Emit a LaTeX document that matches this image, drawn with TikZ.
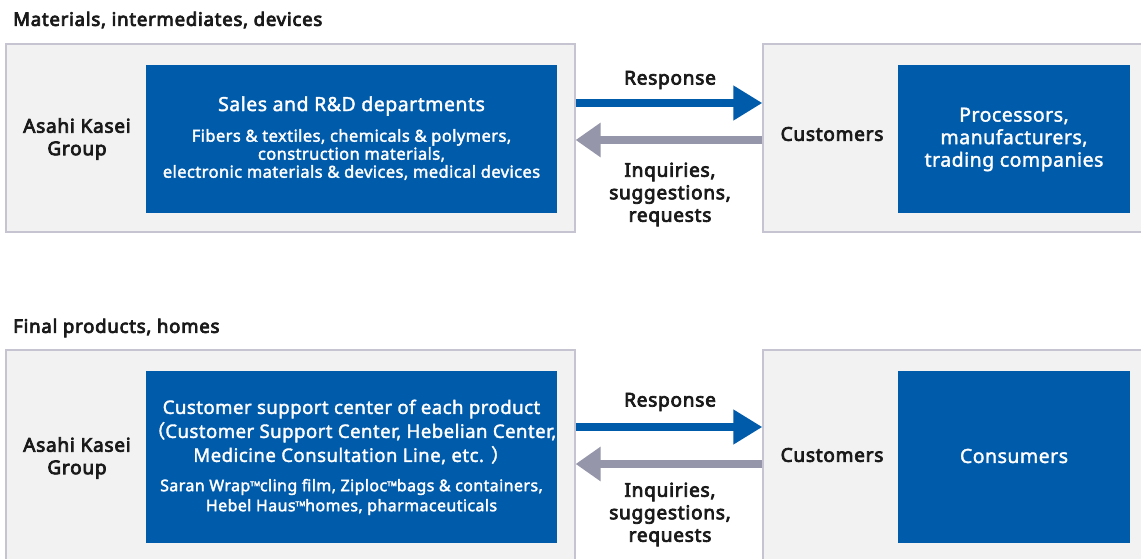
\documentclass[tikz,border=0pt]{standalone}
\usepackage{fontspec}
\setmainfont{Noto Sans}
\newfontfamily\cjkfont{Noto Sans CJK JP}
\newfontfamily\blackfont{Noto Sans}[LetterSpace=4]
\newfontfamily\whitefont{Noto Sans}[LetterSpace=2.5]
\newcommand\thicktext[1]{\special{pdf:literal direct 2 Tr 0.35 w}#1\special{pdf:literal direct 0 Tr}}
\newcommand\heavytext[1]{\special{pdf:literal direct 2 Tr 0.75 w}#1\special{pdf:literal direct 0 Tr}}
\newcommand\tmark{{\fontsize{6.5}{6.5}\selectfont\raisebox{5pt}{TM}}}
\usetikzlibrary{arrows.meta}
\definecolor{akblue}{RGB}{0,91,171}
\definecolor{panelfill}{RGB}{242,242,242}
\definecolor{panelline}{RGB}{197,196,208}
\definecolor{arrowgray}{RGB}{150,150,170}
\definecolor{ink}{RGB}{26,26,26}
\tikzset{
  panel/.style={rectangle, fill=panelfill, draw=panelline, line width=1.3pt, inner sep=0pt},
  bluebox/.style={rectangle, fill=akblue, inner sep=0pt},
  blacktxt/.style={text=ink, align=center, inner sep=0pt, font=\blackfont\fontsize{19}{22.5}\selectfont},
  titletxt/.style={text=ink, anchor=west, inner sep=0pt, font=\blackfont\fontsize{18.6}{21}\selectfont},
  whitebig/.style={text=white, align=center, inner sep=0pt, font=\whitefont\fontsize{19.5}{24}\selectfont},
  whitemid/.style={text=white, align=center, inner sep=0pt, font=\whitefont\fontsize{18.6}{24}\selectfont},
  whitesmall/.style={text=white, align=center, inner sep=0pt, font=\whitefont\fontsize{16.5}{20}\selectfont},
  whitesmaller/.style={text=white, align=center, inner sep=0pt, font=\whitefont\fontsize{16}{20}\selectfont},
  resparrow/.style={draw=akblue, line width=8pt, -{Triangle[length=29pt,width=33pt]}},
  inqarrow/.style={draw=arrowgray, line width=8pt, -{Triangle[length=25pt,width=33pt]}}
}
\begin{document}
\begin{tikzpicture}[x=1pt,y=-1pt]
\useasboundingbox (0,0) rectangle (1141,559);
\clip (0,0) rectangle (1141,559);
\fill[white] (0,0) rectangle (1141,559);

% ---------- top section ----------
\node[titletxt] (t1) at (13,20) {\heavytext{Materials, intermediates, devices}};
\node[panel, minimum width=569pt, minimum height=188pt] (lt) at (290.5,138) {};
\node[panel, minimum width=400pt, minimum height=188pt] (rt) at (963,138) {};
\node[bluebox, minimum width=411pt, minimum height=148pt] (blt) at (351.5,139) {};
\node[bluebox, minimum width=232pt, minimum height=148pt] (brt) at (1014,139) {};

\node[blacktxt] (g1) at (77,139) {\heavytext{Asahi Kasei}\\\heavytext{Group}};
\node[whitebig] (s1) at (351.5,106) {\thicktext{Sales and R\&D departments}};
\node[whitesmall] (s1b) at (351.5,154.5) {\thicktext{Fibers \& textiles, chemicals \& polymers,}\\[-2pt]\thicktext{construction materials,}\\[-2pt]\thicktext{electronic materials \& devices, medical devices}};
\node[blacktxt] (c1) at (832,134) {\heavytext{Customers}};
\node[whitebig, font=\whitefont\fontsize{19.5}{22.5}\selectfont] (p1) at (1014,139.5) {\thicktext{Processors,}\\\thicktext{manufacturers,}\\\thicktext{trading companies}};
\node[blacktxt] (r1) at (670,80) {\heavytext{Response}};
\node[blacktxt] (q1) at (670,194.5) {\heavytext{Inquiries,}\\\heavytext{suggestions,}\\\heavytext{requests}};

\draw[resparrow] (lt.east |- 0,103) -- (rt.west |- 0,103);
\draw[inqarrow] (rt.west |- 0,140) -- (lt.east |- 0,140);

% ---------- bottom section ----------
\node[titletxt] (t2) at (13,328) {\heavytext{Final products, homes}};
\node[panel, minimum width=569pt, minimum height=240pt] (lb) at (290.5,470) {};
\node[panel, minimum width=400pt, minimum height=240pt] (rb) at (963,470) {};
\node[bluebox, minimum width=411pt, minimum height=172pt] (blb) at (351.5,457) {};
\node[bluebox, minimum width=232pt, minimum height=172pt] (brb) at (1014,457) {};

\node[blacktxt] (g2) at (77,458) {\heavytext{Asahi Kasei}\\\heavytext{Group}};
\node[whitemid] (s2) at (351.5,432) {\thicktext{Customer support center of each product}\\\thicktext{{\cjkfont （}Customer Support Center, Hebelian Center,}\\\thicktext{Medicine Consultation Line, etc. {\cjkfont ）}}};
\node[whitesmaller] (s2b) at (351.5,497) {\thicktext{Saran Wrap\tmark cling film, Ziploc\tmark bags \& containers,}\\\thicktext{Hebel Haus\tmark homes, pharmaceuticals}};
\node[blacktxt] (c2) at (832,455) {\heavytext{Customers}};
\node[whitebig] (p2) at (1014,456) {\thicktext{Consumers}};
\node[blacktxt] (r2) at (670,402) {\heavytext{Response}};
\node[blacktxt] (q2) at (670,514.5) {\heavytext{Inquiries,}\\\heavytext{suggestions,}\\\heavytext{requests}};

\draw[resparrow] (lb.east |- 0,427) -- (rb.west |- 0,427);
\draw[inqarrow] (rb.west |- 0,464) -- (lb.east |- 0,464);
\end{tikzpicture}
\end{document}
